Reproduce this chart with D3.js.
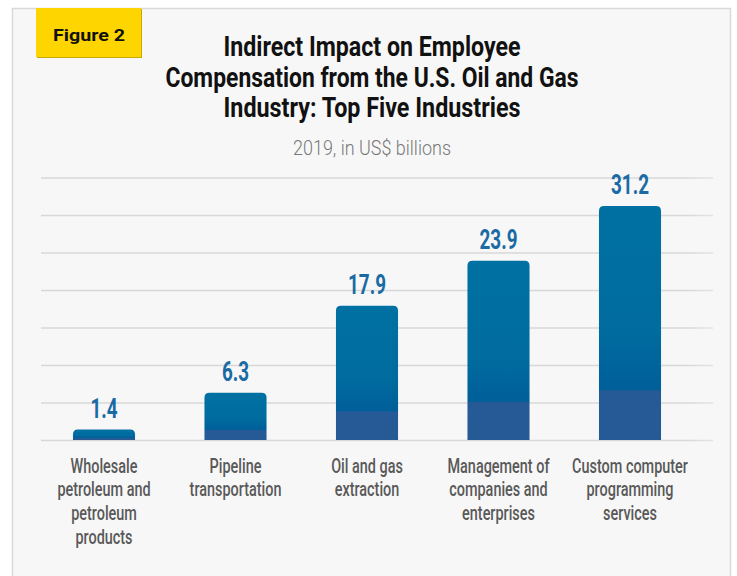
<!DOCTYPE html>
<html>
<head>
<meta charset="utf-8">
<script src="https://cdn.jsdelivr.net/npm/d3@7"></script>
<style>
  html, body { margin: 0; padding: 0; background: #fff; }
  svg { display: block; }
</style>
</head>
<body>
<script>
// data
const categories = [
    ['Wholesale', 'petroleum and', 'petroleum', 'products'],
    ['Pipeline', 'transportation'],
    ['Oil and gas', 'extraction'],
    ['Management of', 'companies and', 'enterprises'],
    ['Custom computer', 'programming', 'services']
];
const values = [1.4, 6.3, 17.9, 23.9, 31.2];
const gridTicks = [0, 5, 10, 15, 20, 25, 30, 35];
const titleLines = ['Indirect Impact on Employee', 'Compensation from the U.S. Oil and Gas', 'Industry: Top Five Industries'];
const subtitle = '2019, in US$ billions';

const width = 737;
const height = 576;

let svg = d3.select('body')
    .append('svg')
    .attr('width', width)
    .attr('height', height);

let defs = svg.append('defs');

let barGrad = defs.append('linearGradient')
    .attr('id', 'barGrad')
    .attr('x1', 0).attr('y1', 0)
    .attr('x2', 0).attr('y2', 1);
[[0, '#0071a2'], [0.55, '#006b9f'], [0.785, '#005f99'], [0.79, '#265a96'], [1, '#255a95']]
    .forEach(s => barGrad.append('stop').attr('offset', s[0]).attr('stop-color', s[1]));

let gridGrad = defs.append('linearGradient')
    .attr('id', 'gridGrad')
    .attr('gradientUnits', 'userSpaceOnUse')
    .attr('x1', 41).attr('x2', 713)
    .attr('y1', 0).attr('y2', 0);
[[0, '#d8d8d8', 1], [0.9, '#d8d8d8', 1], [1, '#d8d8d8', 0]]
    .forEach(s => gridGrad.append('stop').attr('offset', s[0]).attr('stop-color', s[1]).attr('stop-opacity', s[2]));

// panel
svg.append('rect')
    .attr('x', 12.5).attr('y', 8.5)
    .attr('width', 718).attr('height', 600)
    .style('fill', '#f7f7f7')
    .style('stroke', '#d9d9d9')
    .style('stroke-width', 1.5);

// figure tag
svg.append('rect')
    .attr('x', 37).attr('y', 9)
    .attr('width', 105).attr('height', 49)
    .style('fill', '#c9a800');
svg.append('rect')
    .attr('x', 36).attr('y', 8)
    .attr('width', 105).attr('height', 49)
    .style('fill', '#ffd500');
svg.append('text')
    .attr('x', 89).attr('y', 41)
    .attr('text-anchor', 'middle')
    .attr('textLength', 72)
    .attr('lengthAdjust', 'spacingAndGlyphs')
    .style('font-family', 'Roboto, sans-serif')
    .style('font-weight', 700)
    .style('font-size', '17px')
    .style('fill', '#111')
    .text('Figure 2');

// title
const titleWidths = [297, 413, 297];
svg.append('g').selectAll('text')
    .data(titleLines)
    .join('text')
    .attr('x', 372)
    .attr('y', (d, i) => 56 + i * 30.5)
    .attr('text-anchor', 'middle')
    .attr('textLength', (d, i) => titleWidths[i])
    .attr('lengthAdjust', 'spacingAndGlyphs')
    .style('font-family', 'Roboto, sans-serif')
    .style('font-weight', 700)
    .style('font-size', '27px')
    .style('fill', '#111')
    .text(d => d);

svg.append('text')
    .attr('x', 372).attr('y', 155)
    .attr('text-anchor', 'middle')
    .attr('textLength', 158)
    .attr('lengthAdjust', 'spacingAndGlyphs')
    .style('font-family', 'Roboto, sans-serif')
    .style('font-weight', 300)
    .style('font-size', '21px')
    .style('fill', '#777')
    .text(subtitle);

// scales
const x = d3.scaleBand()
    .domain(d3.range(values.length))
    .range([38.25, 695.75])
    .paddingInner(0.528)
    .paddingOuter(0.264);

const y = d3.scaleLinear()
    .domain([0, 35])
    .range([440, 177.5]);

// grid
let grid = svg.append('g')
    .attr('transform', 'translate(41,0)')
    .call(d3.axisLeft(y).tickValues(gridTicks).tickSize(-672).tickFormat(''));
grid.select('.domain').remove();
grid.selectAll('.tick line')
    .attr('stroke', 'url(#gridGrad)')
    .attr('stroke-width', 1.5);

// bars
const r = 5;
function barPath(i) {
    const x0 = x(i), x1 = x(i) + x.bandwidth();
    const y0 = y(values[i]), yb = y(0);
    return `M${x0},${yb} L${x0},${y0 + r} Q${x0},${y0} ${x0 + r},${y0} ` +
           `L${x1 - r},${y0} Q${x1},${y0} ${x1},${y0 + r} L${x1},${yb} Z`;
}

svg.append('g').selectAll('path')
    .data(values)
    .join('path')
    .attr('d', (d, i) => barPath(i))
    .style('fill', 'url(#barGrad)');

// value labels
svg.append('g').selectAll('text')
    .data(values)
    .join('text')
    .attr('transform', (d, i) => `translate(${x(i) + x.bandwidth() / 2},${y(d) - 12}) scale(0.7,1)`)
    .attr('text-anchor', 'middle')
    .style('font-family', 'Roboto, sans-serif')
    .style('font-weight', 700)
    .style('font-size', '27px')
    .style('fill', '#1a6ba4')
    .text(d => d.toFixed(1));

// category labels
let cats = svg.append('g').selectAll('g')
    .data(categories)
    .join('g')
    .attr('transform', (d, i) => `translate(${x(i) + x.bandwidth() / 2},472.5) scale(0.74,1)`);

cats.selectAll('text')
    .data(d => d)
    .join('text')
    .attr('x', 0)
    .attr('y', (d, i) => i * 24)
    .attr('text-anchor', 'middle')
    .style('font-family', 'Roboto, sans-serif')
    .style('font-weight', 500)
    .style('font-size', '19.5px')
    .style('fill', '#595959')
    .text(d => d);
</script>
</body>
</html>
